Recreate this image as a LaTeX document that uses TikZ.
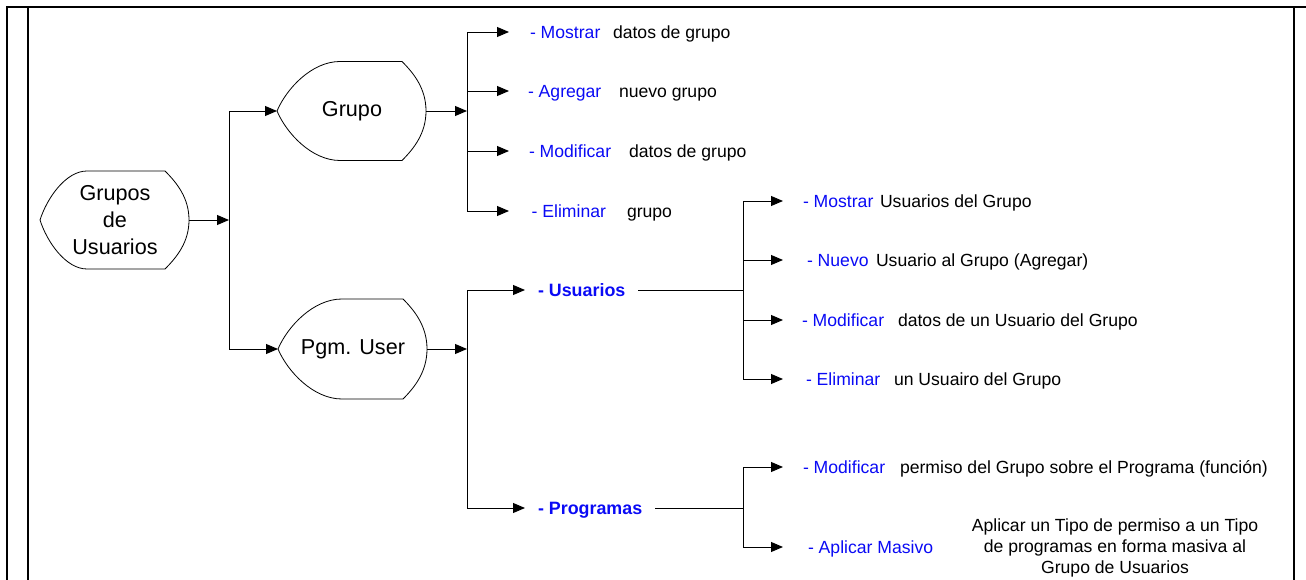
\documentclass[tikz,border=0pt]{standalone}
\usepackage{fontspec}
\setmainfont{Liberation Sans}
\usetikzlibrary{arrows.meta}
\definecolor{actblue}{RGB}{10,10,245}
\newcommand{\dispshape}[5]{%
 \draw[shp] (#2,{#4-#5}) -- (#3,{#4-#5})
   .. controls ({#3+12},{#4-#5+12}) and ({#3+24},{#4-0.45*#5}) .. ({#3+24},#4)
   .. controls ({#3+24},{#4+0.45*#5}) and ({#3+12},{#4+#5-12}) .. (#3,{#4+#5})
   -- (#2,{#4+#5})
   .. controls ({#2-0.45*(#2-#1)},{#4+#5}) and ({#1+0.15*(#2-#1)},{#4+0.45*#5}) .. (#1,#4)
   .. controls ({#1+0.15*(#2-#1)},{#4-0.45*#5}) and ({#2-0.45*(#2-#1)},{#4-#5}) .. (#2,{#4-#5}) -- cycle;}
\tikzset{
  lbl/.style={font=\fontsize{13.2}{15.8}\selectfont, text height=9.5pt, text depth=0pt,
    inner sep=0pt, outer sep=0pt, anchor=west},
  act/.style={lbl, text=actblue},
  boldact/.style={act, font=\fontsize{13.4}{15.8}\selectfont\bfseries, inner xsep=9.75pt},
  big/.style={font=\fontsize{16.2}{20.25}\selectfont, align=center, inner sep=0pt},
  shp/.style={line width=0.6pt},
  conn/.style={line width=0.7pt, -{Triangle[length=9pt,width=7.5pt]}},
  plain/.style={line width=0.7pt},
  frame/.style={line width=2pt}
}
\begin{document}
\begin{tikzpicture}[x=0.75pt, y=-0.75pt]
\useasboundingbox (0,0) rectangle (1306,580);
% frame
\draw[frame] (7,580) -- (7,7) -- (1306,7);
\draw[frame] (28,7) -- (28,580);
\draw[frame] (1294,7) -- (1294,580);

% shapes
\dispshape{40}{87}{165}{220}{49}
\node[big] (gu) at (115,220) {Grupos\\de\\Usuarios};
\coordinate (guR) at (189,220);

\dispshape{277}{340}{402}{111}{49.5}
\node[big] (gr) at (352,111) {Grupo};
\coordinate (grL) at (277,111);
\coordinate (grR) at (426,111);

\dispshape{278}{342}{403}{349}{50}
\node[big] (pu) at (353,349) {Pgm. User};
\coordinate (puL) at (278,349);
\coordinate (puR) at (427,349);

% trunks
\coordinate (t1) at (229,220);
\coordinate (t2) at (467,111);
\coordinate (t3) at (467,349);
\coordinate (t4) at (743,290);
\coordinate (t5) at (743,508);

\draw[conn] (guR) -- (t1);
\draw[conn] (t1) |- (grL);
\draw[conn] (t1) |- (puL);

% Grupo branch
\node[act, inner xsep=15.75pt] (g1) at (509,32) {- Mostrar};
\node[lbl] (g1d) at (613,32) {datos de grupo};
\node[act, inner xsep=14.25pt] (g2) at (509,91) {- Agregar};
\node[lbl] (g2d) at (619,91) {nuevo grupo};
\node[act, inner xsep=15pt] (g3) at (509,151) {- Modificar};
\node[lbl] (g3d) at (629,151) {datos de grupo};
\node[act, inner xsep=17pt] (g4) at (509,211) {- Eliminar};
\node[lbl] (g4d) at (627,211) {grupo};
\draw[conn] (grR) -- (t2);
\foreach \n in {g1,g2,g3,g4} \draw[conn] (t2) |- (\n.west);

% Pgm. User branch
\node[boldact] (usu) at (525,290) {- Usuarios};
\node[boldact] (prg) at (525,508) {- Programas};
\draw[conn] (puR) -- (t3);
\draw[conn] (t3) |- (usu.west);
\draw[conn] (t3) |- (prg.west);

% Usuarios branch
\node[act, inner xsep=15pt] (u1) at (783,201) {- Mostrar};
\node[lbl] (u1d) at (880,201) {Usuarios del Grupo};
\node[act, inner xsep=18pt] (u2) at (783,260) {- Nuevo};
\node[lbl] (u2d) at (876,260) {Usuario al Grupo (Agregar)};
\node[act, inner xsep=14.25pt] (u3) at (783,320) {- Modificar};
\node[lbl] (u3d) at (898,320) {datos de un Usuario del Grupo};
\node[act, inner xsep=17.25pt] (u4) at (783,379) {- Eliminar};
\node[lbl] (u4d) at (894,379) {un Usuairo del Grupo};
\draw[plain] (usu.east) -- (t4);
\foreach \n in {u1,u2,u3,u4} \draw[conn] (t4) |- (\n.west);

% Programas branch
\node[act, inner xsep=15pt] (p1) at (783,467) {- Modificar};
\node[lbl] (p1d) at (900,467) {permiso del Grupo sobre el Programa (función)};
\node[act, inner xsep=18.75pt] (p2) at (783,547) {- Aplicar Masivo};
\node[font=\fontsize{13.2}{15.75}\selectfont, align=center, inner sep=0pt] (p2d) at (1115,548)
  {Aplicar un Tipo de permiso a un Tipo\\de programas en forma masiva al\\Grupo de Usuarios};
\draw[plain] (prg.east) -- (t5);
\foreach \n in {p1,p2} \draw[conn] (t5) |- (\n.west);
\end{tikzpicture}
\end{document}
